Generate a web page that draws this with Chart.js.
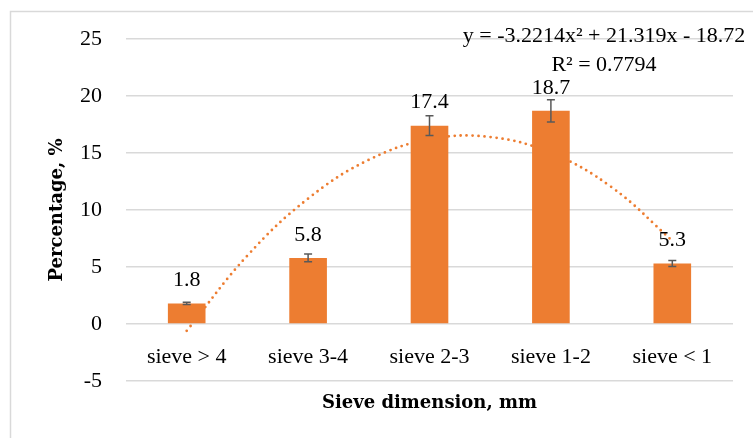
<!DOCTYPE html>
<html>
<head>
<meta charset="utf-8">
<script src="https://cdn.jsdelivr.net/npm/chart.js@4.4.1/dist/chart.umd.min.js"></script>
<style>
  html, body { margin: 0; padding: 0; background: #fff; }
  #wrap { width: 753px; height: 438px; position: relative; }
</style>
</head>
<body>
<div id="wrap"><canvas id="sieveChart"></canvas></div>
<script>
const categories = ["sieve > 4", "sieve 3-4", "sieve 2-3", "sieve 1-2", "sieve < 1"];
const percentages = [1.8, 5.8, 17.4, 18.7, 5.3];
const errors = [0.1, 0.33, 0.87, 0.97, 0.26];
const trendX = [1, 1.5, 2, 2.5, 3, 3.5, 4, 4.5, 5];
const trendY = [-0.6, 6.0, 11.0, 14.4, 16.2, 16.4, 15.0, 12.0, 7.3];
const yMin = -5;
const yMax = 25;
const yStep = 5;
const equationText = "y = -3.2214x² + 21.319x - 18.72";
const r2Text = "R² = 0.7794";

const FONT = "'Liberation Serif', 'Times New Roman', serif";
const TITLE_FONT = "'DejaVu Serif', serif";
const ORANGE = "#ED7D31";

const framePlugin = {
  id: "frame",
  beforeDraw(chart) {
    const ctx = chart.ctx;
    ctx.save();
    ctx.strokeStyle = "#d9d9d9";
    ctx.lineWidth = 1.5;
    ctx.strokeRect(10.5, 11.5, 800, 500);
    ctx.restore();
  }
};

const extrasPlugin = {
  id: "extras",
  afterDatasetsDraw(chart) {
    const ctx = chart.ctx;
    const x = chart.scales.x;
    const y = chart.scales.y;
    const meta = chart.getDatasetMeta(1);
    ctx.save();
    // category labels sit just under the zero line
    ctx.fillStyle = "#000";
    ctx.font = "22px " + FONT;
    ctx.textAlign = "center";
    ctx.textBaseline = "middle";
    categories.forEach((c, i) => {
      ctx.fillText(c, x.getPixelForValue(i), y.getPixelForValue(0) + 33);
    });
    // error bars
    ctx.strokeStyle = "#595959";
    ctx.lineWidth = 1.5;
    meta.data.forEach((bar, i) => {
      const top = y.getPixelForValue(percentages[i] + errors[i]);
      const bot = y.getPixelForValue(percentages[i] - errors[i]);
      ctx.beginPath();
      ctx.moveTo(bar.x, top);
      ctx.lineTo(bar.x, bot);
      ctx.moveTo(bar.x - 4, top);
      ctx.lineTo(bar.x + 4, top);
      ctx.moveTo(bar.x - 4, bot);
      ctx.lineTo(bar.x + 4, bot);
      ctx.stroke();
    });
    // value labels
    meta.data.forEach((bar, i) => {
      ctx.fillText(percentages[i].toFixed(1), bar.x, bar.y - 23);
    });
    // trendline equation
    ctx.fillText(equationText, 604, 36);
    ctx.fillText(r2Text, 604, 65);
    ctx.restore();
  }
};

new Chart(document.getElementById("sieveChart"), {
  type: "bar",
  data: {
    labels: categories,
    datasets: [
      {
        type: "line",
        xAxisID: "xt",
        yAxisID: "y",
        data: trendX.map((v, i) => ({ x: v, y: trendY[i] })),
        borderColor: ORANGE,
        borderWidth: 2.8,
        borderDash: [0, 6],
        borderCapStyle: "round",
        pointRadius: 0,
        tension: 0.4,
        fill: false,
        order: 2
      },
      {
        type: "bar",
        xAxisID: "x",
        yAxisID: "y",
        data: percentages,
        backgroundColor: ORANGE,
        grouped: false,
        barPercentage: 0.31,
        categoryPercentage: 1,
        order: 1
      }
    ]
  },
  options: {
    responsive: true,
    maintainAspectRatio: false,
    animation: false,
    layout: { padding: { left: 0, top: 39, right: 20, bottom: 0 } },
    plugins: {
      legend: { display: false },
      tooltip: { enabled: false }
    },
    scales: {
      x: {
        type: "category",
        grid: { display: false },
        border: { display: false },
        ticks: { display: false },
        title: {
          display: true,
          text: "Sieve dimension, mm",
          color: "#000",
          font: { family: TITLE_FONT, size: 18, weight: "bold" },
          padding: { top: 0, bottom: 24 }
        },
        afterFit(scale) { scale.height = 57; }
      },
      xt: {
        type: "linear",
        display: false,
        offset: false,
        grid: { offset: false },
        min: 0.5,
        max: 5.5
      },
      y: {
        min: yMin,
        max: yMax,
        grid: { color: "#d9d9d9", lineWidth: 1.5, drawTicks: false },
        border: { display: false },
        ticks: {
          stepSize: yStep,
          color: "#000",
          font: { family: FONT, size: 22 },
          padding: 24
        },
        title: {
          display: true,
          text: "Percentage, %",
          color: "#000",
          font: { family: TITLE_FONT, size: 18, weight: "bold" },
          padding: { top: 47, bottom: 0 }
        },
        afterFit(scale) { scale.width = 126; }
      }
    }
  },
  plugins: [framePlugin, extrasPlugin]
});
</script>
</body>
</html>
